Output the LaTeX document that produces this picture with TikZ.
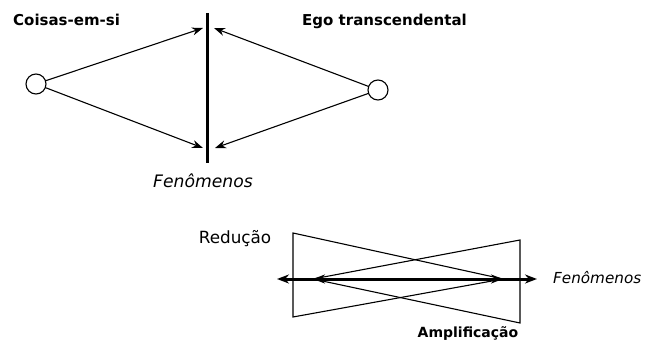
\documentclass[tikz,border=0pt]{standalone}
\usepackage{fontspec}
\setmainfont{DejaVu Sans}
\usetikzlibrary{arrows.meta}
\begin{document}
\begin{tikzpicture}[x=1pt,y=-1pt,
  thinline/.style={line width=1.1pt},
  thinarrow/.style={line width=1.1pt,-{Stealth[length=11pt,width=8pt]}},
  thickline/.style={line width=3pt},
  thickarrow/.style={line width=3pt,-{Stealth[length=12pt,width=9pt]}},
  ball/.style={circle,draw,line width=1.1pt,minimum size=20pt,inner sep=0pt},
  lab/.style={inner sep=0pt,font=\fontsize{16.8}{20}\selectfont},
  blab/.style={inner sep=0pt,font=\fontsize{15}{18}\selectfont\bfseries},
  ilab/.style={inner sep=0pt,font=\fontsize{17.2}{20}\selectfont\itshape}]
\useasboundingbox (0,0) rectangle (654,345);
% top part
\node[ball] (cl) at (36,84) {};
\node[ball] (cr) at (378,90) {};
\coordinate (vtop) at (207,13);
\coordinate (vbot) at (207,163);
\draw[thickline] (vtop) -- (vbot);
\coordinate (lt) at (203,28);
\coordinate (lb) at (203,148);
\coordinate (rt) at (214,28);
\coordinate (rb) at (215,148);
\draw[thinarrow] (cl) -- (lt);
\draw[thinarrow] (cl) -- (lb);
\draw[thinarrow] (cr) -- (rt);
\draw[thinarrow] (cr) -- (rb);
\node[blab,anchor=west] (coisas) at (13,20) {Coisas-em-si};
\node[blab,anchor=west] (ego) at (302,21) {Ego transcendental};
\node[ilab] (fen1) at (203,181) {Fenômenos};
% bottom part
\coordinate (a1) at (293,233);
\coordinate (a2) at (293,317);
\coordinate (a3) at (503,279);
\coordinate (b1) at (520,240);
\coordinate (b2) at (520,323);
\coordinate (b3) at (313,279);
\draw[thinline,line join=miter] (a3) -- (a1) -- (a2) -- cycle;
\draw[thinline,line join=miter] (b3) -- (b1) -- (b2) -- cycle;
\coordinate (hm) at (408,279);
\coordinate (hl) at (277,279);
\coordinate (hr) at (537,279);
\draw[thickarrow] (hm) -- (hl);
\draw[thickarrow] (hm) -- (hr);
\draw[thickarrow] (hm) -- (b3);
\draw[thickarrow] (hm) -- (a3);
\node[lab] (red) at (235,239) {Redução};
\node[ilab,anchor=west,font=\fontsize{15.2}{18}\selectfont\itshape] (fen2) at (553,278) {Fenômenos};
\node[blab,font=\fontsize{14}{17}\selectfont\bfseries] (amp) at (468,334) {Amplificação};
\end{tikzpicture}
\end{document}
